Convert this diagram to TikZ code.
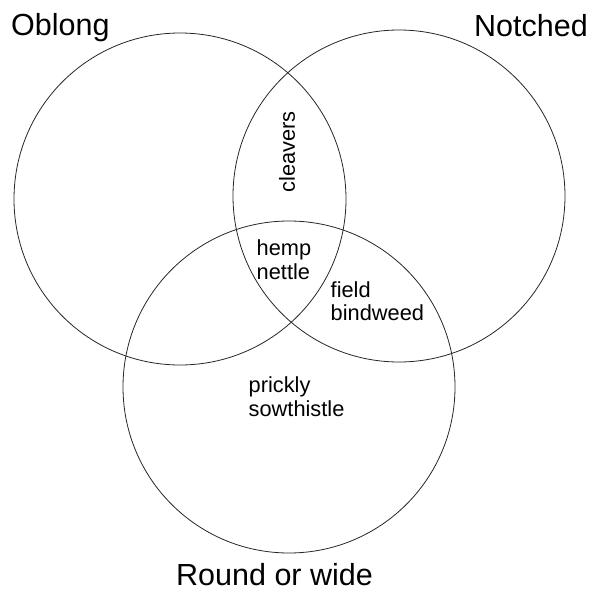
\documentclass[tikz,border=0pt]{standalone}
\usepackage{fontspec}
\setmainfont{Liberation Sans}
\tikzset{set/.style={draw=black!85,line width=0.8pt,circle,inner sep=0pt,minimum size=332pt},
         setname/.style={font=\fontsize{30.5}{35}\selectfont,inner sep=0pt},
         plant/.style={font=\fontsize{21.8}{23.5}\selectfont,inner sep=0pt,align=left,anchor=base west}}

\begin{document}
\begin{tikzpicture}[x=1pt,y=-1pt]
\useasboundingbox (0,0) rectangle (590,589);
% the three sets
\node[set] (oblong)  at (180,199) {};
\node[set] (notched) at (399,196) {};
\node[set] (round)   at (289,387) {};
% names of the sets
\node[setname,anchor=base west] (oblongname)  at (11,35)   {Oblong};
\node[setname,anchor=base east] (notchedname) at (588,36)  {Notched};
\node[setname,anchor=base west] (roundname)   at (176,585) {Round or wide};
% plants (base is the last line)
\node[plant,rotate=90,anchor=center] (cleavers) at (287,152) {cleavers};
\node[plant] (hemp)     at (256.5,279) {hemp\\nettle};
\node[plant] (field)    at (330.5,320.5) {field\\bindweed};
\node[plant] (prickly)  at (248.5,416) {prickly\\sowthistle};
\end{tikzpicture}
\end{document}
